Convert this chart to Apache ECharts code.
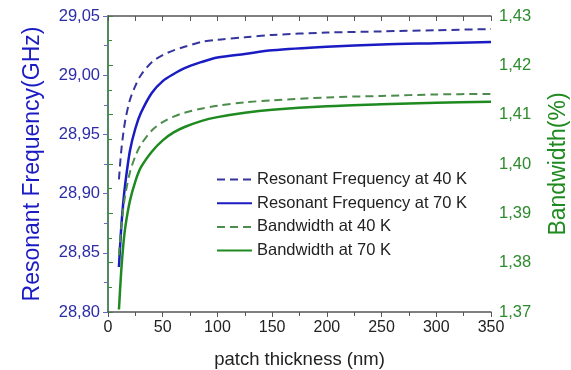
<!DOCTYPE html>
<html>
<head>
<meta charset="utf-8">
<script src="https://cdn.jsdelivr.net/npm/echarts@6/dist/echarts.min.js"></script>
<style>
  html, body { margin: 0; padding: 0; background: #fff; }
  #chart { width: 571px; height: 370px; }
</style>
</head>
<body>
<div id="chart"></div>
<script>
// patch thickness (nm)
const thickness = [10, 12, 14, 16, 20, 25, 30, 40, 50, 60, 70, 85, 100, 125, 150, 200, 250, 300, 350];
// resonant frequency (GHz)
const freq40K = [28.912, 28.935, 28.951, 28.963, 28.979, 28.991, 29.000, 29.011, 29.017, 29.021, 29.024, 29.028, 29.030, 29.032, 29.034, 29.036, 29.037, 29.038, 29.039];
const freq70K = [28.838, 28.870, 28.893, 28.910, 28.936, 28.955, 28.968, 28.985, 28.995, 29.001, 29.006, 29.011, 29.015, 29.018, 29.021, 29.024, 29.026, 29.027, 29.028];
// bandwidth (%)
const bw40K = [1.3815, 1.3870, 1.3910, 1.3940, 1.3983, 1.4016, 1.4039, 1.4068, 1.4085, 1.4096, 1.4104, 1.4112, 1.4118, 1.4125, 1.4129, 1.4135, 1.4138, 1.4141, 1.4142];
const bw70K = [1.3705, 1.3780, 1.3836, 1.3875, 1.3925, 1.3965, 1.3993, 1.4025, 1.4048, 1.4064, 1.4075, 1.4087, 1.4095, 1.4104, 1.4110, 1.4117, 1.4121, 1.4124, 1.4126];

const names = ['Resonant Frequency at 40 K', 'Resonant Frequency at 70 K', 'Bandwidth at 40 K', 'Bandwidth at 70 K'];

const pairs = (ys) => thickness.map((x, i) => [x, ys[i]]);
const comma = (v) => v.toFixed(2).replace('.', ',');

const FONT = 'Liberation Sans';
const BLUE = '#1b1bc4';
const GREEN = '#1f8a1f';

var myChart = echarts.init(document.getElementById('chart'));

var option = {
  animation: false,
  textStyle: { fontFamily: FONT },
  grid: { left: 108, right: 80, top: 16, bottom: 58, outerBoundsMode: 'none' },
  legend: {
    orient: 'vertical',
    left: 211,
    top: 166,
    itemWidth: 35,
    itemHeight: 14,
    itemGap: 6.7,
    itemStyle: { opacity: 0 },
    textStyle: { fontFamily: FONT, fontSize: 16.5, color: '#222', lineHeight: 14 },
    data: names
  },
  xAxis: [
    {
      type: 'value', min: 0, max: 350, interval: 50,
      name: 'patch thickness (nm)', nameLocation: 'middle', nameGap: 38,
      nameTextStyle: { fontSize: 18.5, color: '#222', fontFamily: FONT },
      axisLine: { lineStyle: { color: '#555', width: 1.5 } },
      axisTick: { length: 5, lineStyle: { color: '#555' } },
      minorTick: { show: true, splitNumber: 2, length: 4, lineStyle: { color: '#555' } },
      axisLabel: { fontSize: 16, color: '#222', margin: 8 },
      splitLine: { show: false }
    },
    {
      type: 'value', min: 0, max: 350, interval: 25, position: 'top',
      axisLine: { show: true, lineStyle: { color: '#555', width: 1.5 } },
      axisTick: { inside: true, length: 5, lineStyle: { color: '#555' } },
      axisLabel: { show: false },
      splitLine: { show: false }
    }
  ],
  yAxis: [
    {
      type: 'value', min: 28.80, max: 29.05, interval: 0.05,
      name: 'Resonant Frequency(GHz)', nameLocation: 'middle', nameGap: 64, nameRotate: 90,
      nameTextStyle: { fontSize: 23, color: BLUE, fontFamily: FONT },
      axisLine: { show: true, lineStyle: { color: '#6a6ab8', width: 1.5 } },
      axisTick: { length: 5, lineStyle: { color: '#6a6ab8' } },
      minorTick: { show: true, splitNumber: 2, length: 4, lineStyle: { color: '#6a6ab8' } },
      axisLabel: { fontSize: 16.5, color: '#2c2ca8', margin: 8, formatter: comma },
      splitLine: { show: false }
    },
    {
      type: 'value', min: 1.37, max: 1.43, interval: 0.01, position: 'right',
      name: 'Bandwidth(%)', nameLocation: 'middle', nameGap: 56, nameRotate: 90,
      nameTextStyle: { fontSize: 23, color: GREEN, fontFamily: FONT },
      axisLine: { show: true, lineStyle: { color: '#3a8a3a', width: 1.5 } },
      axisTick: { length: 5, lineStyle: { color: '#3a8a3a' } },
      minorTick: { show: true, splitNumber: 2, length: 4, lineStyle: { color: '#3a8a3a' } },
      axisLabel: { fontSize: 16.5, color: '#2e8b2e', margin: 8, formatter: comma },
      splitLine: { show: false }
    }
  ],
  series: [
    {
      name: names[0], type: 'line', yAxisIndex: 0, data: pairs(freq40K),
      smooth: 0.3, symbol: 'none',
      lineStyle: { color: '#35359e', width: 2, type: [8, 5] },
      itemStyle: { color: '#35359e' }
    },
    {
      name: names[1], type: 'line', yAxisIndex: 0, data: pairs(freq70K),
      smooth: 0.3, symbol: 'none',
      lineStyle: { color: BLUE, width: 2.5 },
      itemStyle: { color: BLUE }
    },
    {
      name: names[2], type: 'line', yAxisIndex: 1, data: pairs(bw40K),
      smooth: 0.3, symbol: 'none',
      lineStyle: { color: '#4c8c4c', width: 2, type: [8, 5] },
      itemStyle: { color: '#4c8c4c' }
    },
    {
      name: names[3], type: 'line', yAxisIndex: 1, data: pairs(bw70K),
      smooth: 0.3, symbol: 'none',
      lineStyle: { color: GREEN, width: 2.5 },
      itemStyle: { color: GREEN }
    }
  ]
};
myChart.setOption(option);
</script>
</body>
</html>
